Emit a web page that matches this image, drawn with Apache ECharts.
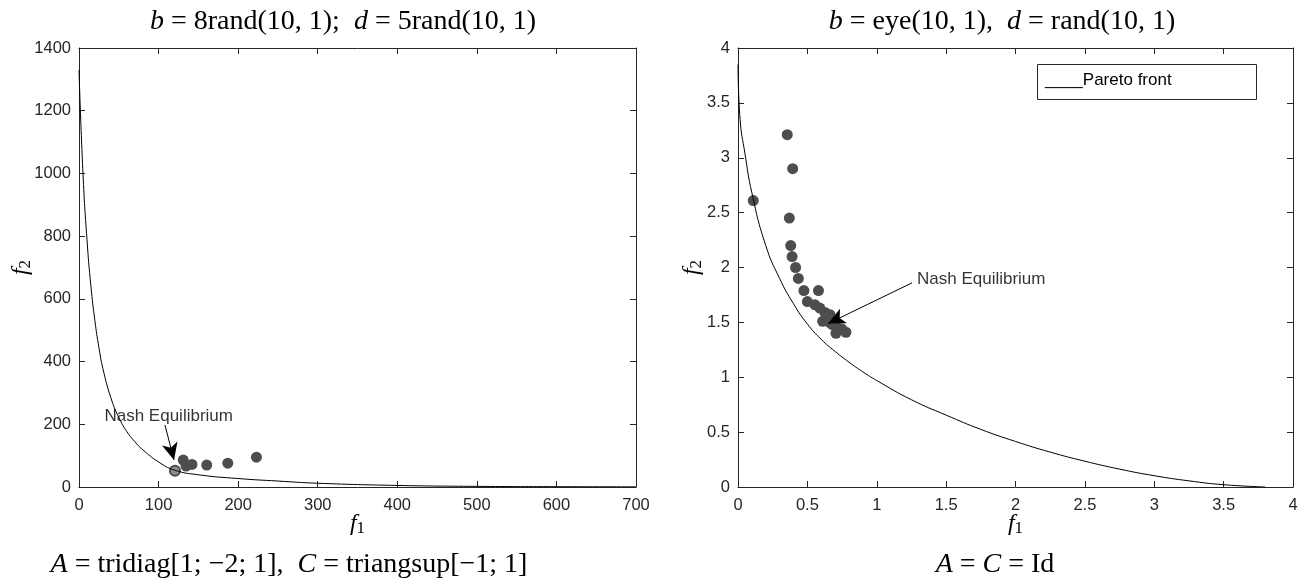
<!DOCTYPE html>
<html><head><meta charset="utf-8">
<script src="https://cdn.jsdelivr.net/npm/echarts@6/dist/echarts.min.js"></script>
<style>html,body{margin:0;padding:0;background:#fff}#c{width:1308px;height:582px}</style>
</head><body><div id="c"></div>
<script>
// ---------- data ----------
const leftAxisX = [0, 700, 100];     // min, max, interval
const leftAxisY = [0, 1400, 200];
const rightAxisX = [0, 4, 0.5];
const rightAxisY = [0, 4, 0.5];

const leftFront = [[0,1330],[5,1000],[10,790],[15,640],[20,530],[25,445],[30,378],[40,285],[50,222],[60,177],[70,145],[80,119],[100,80],[120,54],[150,39],[200,27],[250,19],[300,12],[400,5],[500,2],[600,1],[700,0.5]];
const leftPoints = [[131,86],[134.5,67],[142,72],[160.5,70],[187,76],[223,95]];
const leftNash = [[120.6,52]];
const leftArrow = [[108,198],[119.4,86]];
const leftLabelPos = [32,226];

const rightFront = [[0,3.85],[0.015,3.35],[0.05,3.04],[0.1,2.68],[0.2,2.2],[0.3,1.9],[0.4,1.67],[0.5,1.485],[0.6,1.345],[0.7,1.235],[0.8,1.137],[0.9,1.049],[1,0.97],[1.25,0.795],[1.5,0.655],[1.75,0.525],[2,0.415],[2.25,0.318],[2.5,0.235],[2.75,0.163],[3,0.103],[3.25,0.056],[3.5,0.021],[3.8,0]];
const rightPoints = [[0.355,3.21],[0.394,2.90],[0.11,2.61],[0.37,2.45],[0.38,2.20],[0.39,2.10],[0.415,2.0],[0.435,1.90],[0.475,1.79],[0.58,1.79],[0.50,1.69],[0.555,1.66],[0.59,1.63],[0.627,1.59],[0.663,1.57],[0.61,1.51],[0.687,1.52],[0.64,1.55],[0.66,1.50],[0.68,1.48],[0.71,1.46],[0.706,1.40],[0.778,1.41],[0.747,1.44]];
const rightArrow = [[1.254,1.86],[0.65,1.49]];
const rightLabelPos = [1.29,1.895];

const nashText = 'Nash Equilibrium';
const legendText = '____Pareto front';
// ---------------------------------------------------

const AX = '#262626';
const tickFont = {color: AX, fontFamily: 'Liberation Sans, Arial, sans-serif', fontSize: 16.5};
const serif = 'Liberation Serif, Times New Roman, serif';
const richMath = {
  i: {fontFamily: serif, fontStyle: 'italic', fontWeight: 'normal', fontSize: 28, color: '#000'},
  n: {fontFamily: serif, fontWeight: 'normal', fontSize: 28, color: '#000'},
  s: {fontFamily: serif, fontWeight: 'normal', fontSize: 17, color: '#000', padding: [10,0,0,0]},
  fi:{fontFamily: serif, fontStyle: 'italic', fontWeight: 'normal', fontSize: 24, color: '#000'}
};

function xAx(gi, r, pos, labels, name) {
  return {
    type: 'value', gridIndex: gi, position: pos, min: r[0], max: r[1], interval: r[2],
    axisLine: {show: true, onZero: false, lineStyle: {color: AX, width: 1}},
    axisTick: {show: true, inside: true, length: 6, lineStyle: {color: AX}},
    axisLabel: {show: labels, margin: 10, formatter: v => String(v), ...tickFont},
    splitLine: {show: false},
    name: name || '', nameLocation: 'middle', nameGap: 23, nameMoveOverlap: false,
    nameTextStyle: {rich: richMath}
  };
}
function yAx(gi, r, pos, labels, name, gap) {
  return {
    type: 'value', gridIndex: gi, position: pos, min: r[0], max: r[1], interval: r[2],
    axisLine: {show: true, onZero: false, lineStyle: {color: AX, width: 1}},
    axisTick: {show: true, inside: true, length: 6, lineStyle: {color: AX}},
    axisLabel: {show: labels, margin: 8, formatter: v => String(v), ...tickFont},
    splitLine: {show: false},
    name: name || '', nameLocation: 'middle', nameGap: gap || 40, nameRotate: 90, nameMoveOverlap: false,
    nameTextStyle: {rich: richMath}
  };
}

const chart = echarts.init(document.getElementById('c'), null, {renderer: 'canvas'});
const arrowMark = (pts) => ({
  silent: true, animation: false, symbol: ['none', 'arrow'], symbolSize: [12, 17],
  lineStyle: {color: '#000', width: 1, type: 'solid'}, label: {show: false},
  emphasis: {disabled: true},
  data: [[{coord: pts[0]}, {coord: pts[1]}]]
});
const labelSeries = (xi, yi, pos) => ({
  type: 'scatter', xAxisIndex: xi, yAxisIndex: yi, data: [pos], symbolSize: 0, silent: true,
  label: {show: true, position: 'right', distance: 0, formatter: nashText,
          color: '#000', fontFamily: 'Liberation Sans, Arial, sans-serif', fontSize: 17}
});

chart.setOption({
  animation: false,
  backgroundColor: '#fff',
  title: [
    {text: '{i|b}{n| = 8rand(10, 1);  }{i|d}{n| = 5rand(10, 1)}', left: 338, top: 3, textAlign: 'center',
     textStyle: {fontWeight: 'normal', rich: richMath}},
    {text: '{i|b}{n| = eye(10, 1),  }{i|d}{n| = rand(10, 1)}', left: 997, top: 3, textAlign: 'center',
     textStyle: {fontWeight: 'normal', rich: richMath}},
    {text: '{i|A}{n| = tridiag[1; −2; 1],  }{i|C}{n| = triangsup[−1; 1]}', left: 284, top: 546, textAlign: 'center',
     textStyle: {fontWeight: 'normal', rich: richMath}},
    {text: '{i|A}{n| = }{i|C}{n| = Id}', left: 990, top: 546, textAlign: 'center',
     textStyle: {fontWeight: 'normal', rich: richMath}}
  ],
  grid: [
    {left: 79, top: 48, width: 557, height: 439, show: false},
    {left: 738, top: 48, width: 555, height: 439, show: false}
  ],
  xAxis: [
    xAx(0, leftAxisX, 'bottom', true, '{fi|f}{s|1}'),
    xAx(0, leftAxisX, 'top', false),
    xAx(1, rightAxisX, 'bottom', true, '{fi|f}{s|1}'),
    xAx(1, rightAxisX, 'top', false)
  ],
  yAxis: [
    yAx(0, leftAxisY, 'left', true, '{fi|f}{s|2}', 45),
    yAx(0, leftAxisY, 'right', false),
    yAx(1, rightAxisY, 'left', true, '{fi|f}{s|2}', 33),
    yAx(1, rightAxisY, 'right', false)
  ],
  graphic: [
    {type: 'rect', left: 1037, top: 64, shape: {width: 219, height: 35},
     style: {fill: '#fff', stroke: AX, lineWidth: 1}, z: 100},
    {type: 'text', left: 1045, top: 72, z: 101,
     style: {text: legendText, fill: '#000', font: '17px "Liberation Sans", Arial, sans-serif'}}
  ],
  series: [
    {type: 'line', xAxisIndex: 0, yAxisIndex: 0, data: leftFront, showSymbol: false, smooth: 0.5,
     lineStyle: {color: '#000', width: 1}, silent: true},
    {type: 'scatter', xAxisIndex: 0, yAxisIndex: 0, data: leftPoints, symbolSize: 11,
     itemStyle: {color: '#4d4d4d', opacity: 1}},
    {type: 'scatter', xAxisIndex: 0, yAxisIndex: 0, data: leftNash, symbolSize: 10,
     itemStyle: {color: '#8f8f8f', borderColor: '#4d4d4d', borderWidth: 2, opacity: 1},
     markLine: arrowMark(leftArrow)},
    labelSeries(0, 0, leftLabelPos),
    {type: 'line', xAxisIndex: 2, yAxisIndex: 2, data: rightFront, showSymbol: false, smooth: 0.5,
     lineStyle: {color: '#000', width: 1}, silent: true},
    {type: 'scatter', xAxisIndex: 2, yAxisIndex: 2, data: rightPoints, symbolSize: 11,
     itemStyle: {color: '#4d4d4d', opacity: 1}, markLine: arrowMark(rightArrow)},
    labelSeries(2, 2, rightLabelPos)
  ]
});
</script>
</body></html>
